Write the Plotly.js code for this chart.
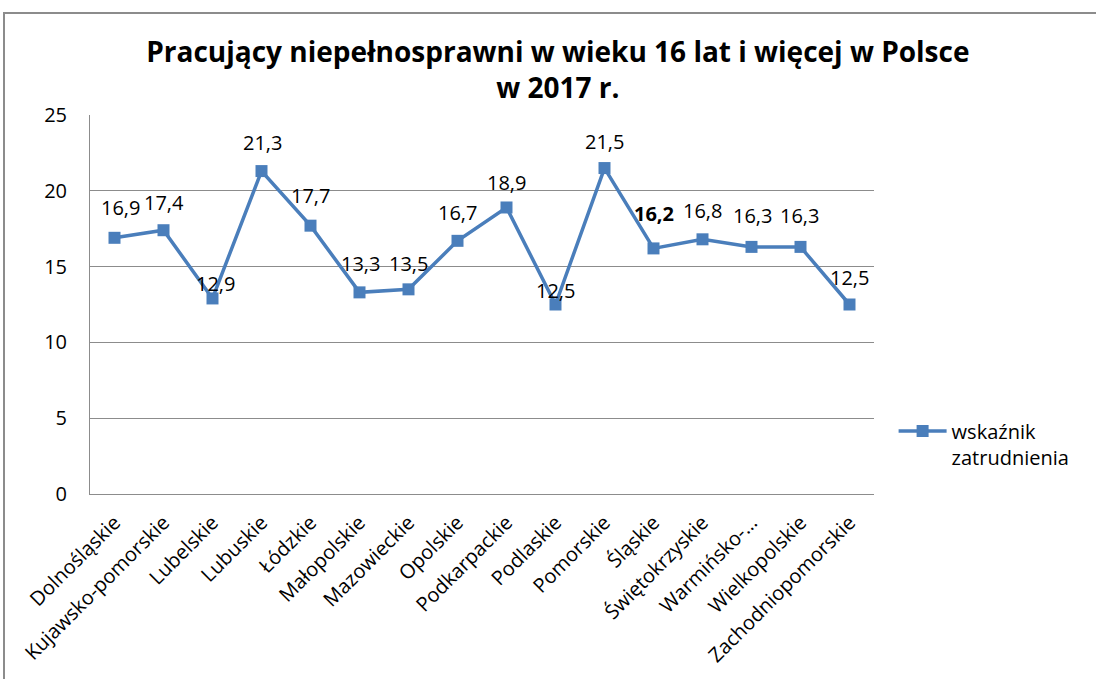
<!DOCTYPE html>
<html>
<head>
<meta charset="utf-8">
<script src="https://cdn.plot.ly/plotly-3.0.1.min.js"></script>
<style>
html,body{margin:0;padding:0;background:#fff;}
#chart{width:1096px;height:679px;}
#frame{position:absolute;left:3px;top:12px;width:1100px;height:700px;border-left:2px solid #8c8c8c;border-top:2px solid #8c8c8c;pointer-events:none;}
</style>
</head>
<body>
<div id="chart"></div>
<div id="frame"></div>
<script>
const regions = ["Dolnośląskie","Kujawsko-pomorskie","Lubelskie","Lubuskie","Łódzkie","Małopolskie","Mazowieckie","Opolskie","Podkarpackie","Podlaskie","Pomorskie","Śląskie","Świętokrzyskie","Warmińsko-…","Wielkopolskie","Zachodniopomorskie"];
const values = [16.9,17.4,12.9,21.3,17.7,13.3,13.5,16.7,18.9,12.5,21.5,16.2,16.8,16.3,16.3,12.5];
const seriesName = "wskaźnik<br>zatrudnienia";
const yTicks = [0,5,10,15,20,25];

// label placement (styling only)
const labelShift = [30,28,15,29,30,29,26,28,25,14,27,35,29,31,31,27];
const labelDx = [6,0,3,1,0,1,0,0,0,0,0,0,0,1,-1,0];
const boldIdx = [11];

const FONT = '"Open Sans", "Noto Sans", sans-serif';
const fmt = v => v.toFixed(1).replace('.', ',');

const annotations = values.map((v,i)=>({
  x: regions[i], y: v, xref:'x', yref:'y',
  text: boldIdx.includes(i) ? '<b>'+fmt(v)+'</b>' : fmt(v),
  showarrow:false, yshift: labelShift[i], xshift: labelDx[i],
  font:{family:FONT, size:20, color:'#000'}
}));

const trace = {
  type:'scatter', mode:'lines+markers',
  x: regions, y: values, name: seriesName,
  line:{color:'#4A7EBB', width:3.5},
  marker:{symbol:'square', size:12, color:'#4A7EBB'}
};

const layout = {
  width:1096, height:679,
  margin:{l:90, r:222, t:115, b:185},
  paper_bgcolor:'#fff', plot_bgcolor:'#fff',
  title:{
    text:'<b>Pracujący niepełnosprawni w wieku 16 lat i więcej w Polsce<br>w 2017 r.</b>',
    x:0.509, xanchor:'center', y:0.909, yanchor:'top', yref:'container',
    font:{family:FONT, size:28, color:'#000'}
  },
  xaxis:{
    type:'category', range:[-0.5,15.5], tickangle:-45, showgrid:false, zeroline:false,
    showline:true, linecolor:'#8c8c8c', linewidth:1, ticks:'',
    ticklabelstandoff:8,
    tickfont:{family:FONT, size:20, color:'#000'}
  },
  yaxis:{
    range:[0,25], tickvals:yTicks, showgrid:true, gridcolor:'#8c8c8c', gridwidth:1,
    zeroline:false, showline:true, linecolor:'#8c8c8c', linewidth:1, ticks:'',
    ticklabelstandoff:18,
    tickfont:{family:FONT, size:20, color:'#000'}
  },
  showlegend:true,
  legend:{
    x:1.025, xanchor:'left', y:0.132, yanchor:'middle', xref:'paper',
    itemwidth:48, valign:'top',
    font:{family:FONT, size:20, color:'#000'},
    bgcolor:'rgba(0,0,0,0)'
  },
  annotations: annotations
};

Plotly.newPlot('chart',[trace],layout,{staticPlot:true});
</script>
</body>
</html>
